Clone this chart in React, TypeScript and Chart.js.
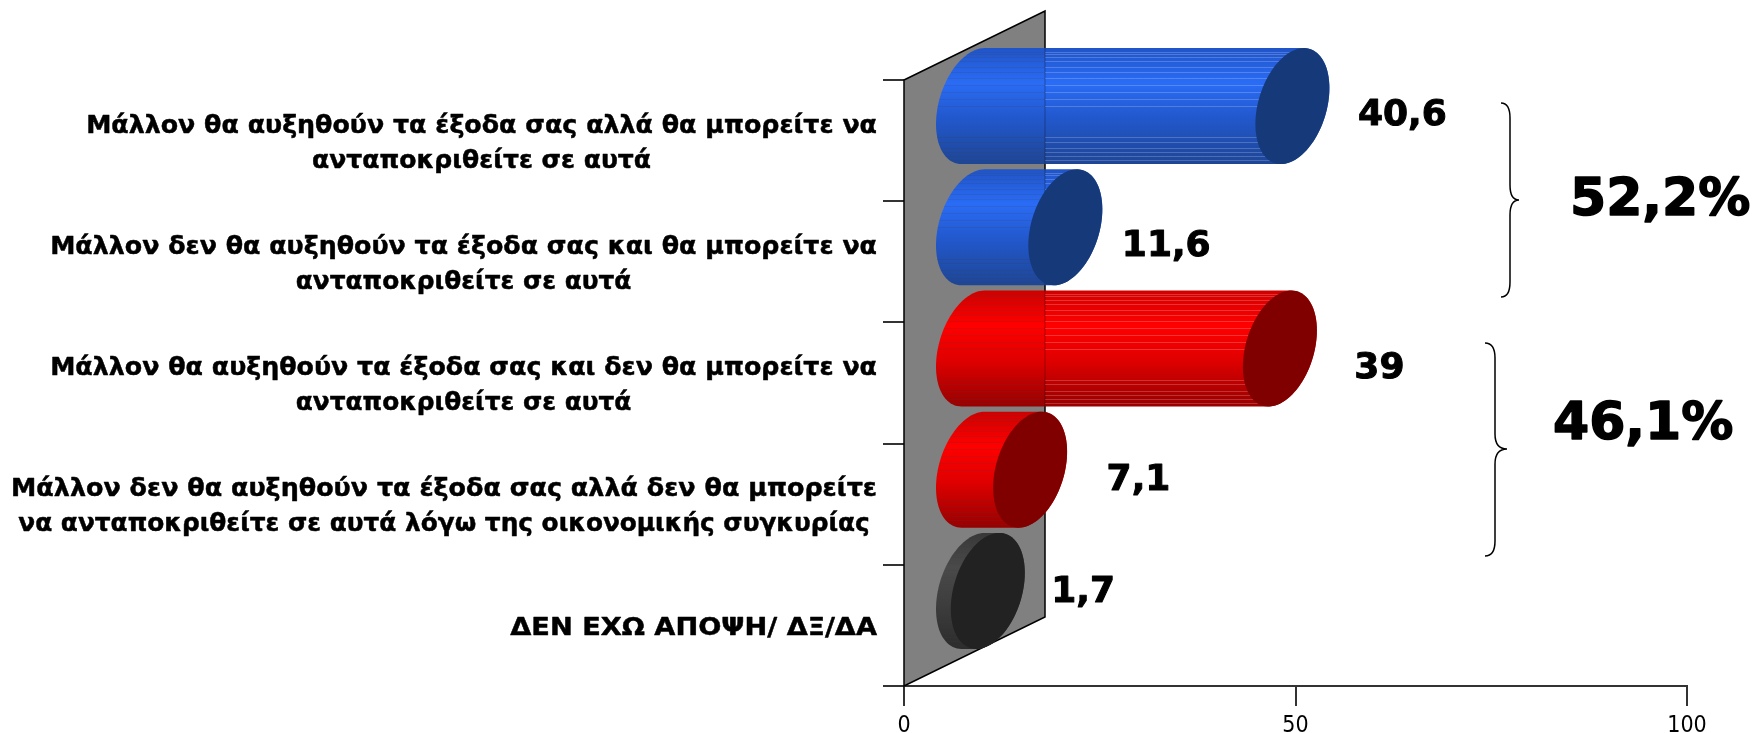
import React, { useEffect, useRef } from "react";
import { Chart, registerables } from "chart.js";

Chart.register(...registerables);

const categories: string[][] = [
  ["Μάλλον θα αυξηθούν τα έξοδα σας αλλά θα μπορείτε να", "ανταποκριθείτε σε αυτά"],
  ["Μάλλον δεν θα αυξηθούν τα έξοδα σας και θα μπορείτε να", "ανταποκριθείτε σε αυτά"],
  ["Μάλλον θα αυξηθούν τα έξοδα σας και δεν θα μπορείτε να", "ανταποκριθείτε σε αυτά"],
  ["Μάλλον δεν θα αυξηθούν τα έξοδα σας αλλά δεν θα μπορείτε", "να ανταποκριθείτε σε αυτά λόγω της οικονομικής συγκυρίας"],
  ["ΔΕΝ ΕΧΩ ΑΠΟΨΗ/ ΔΞ/ΔΑ"],
];
const values = [40.6, 11.6, 39, 7.1, 1.7];
const valueLabels = ["40,6", "11,6", "39", "7,1", "1,7"];
const xTicks = [0, 50, 100];

const palettes = [
  { stops: ["#2054c8", "#2a6cf6", "#2258cd", "#1e4696"], cap: "#16397a" },
  { stops: ["#2054c8", "#2a6cf6", "#2258cd", "#1e4696"], cap: "#16397a" },
  { stops: ["#d00000", "#ff0000", "#e00000", "#980000"], cap: "#800000" },
  { stops: ["#d00000", "#ff0000", "#e00000", "#980000"], cap: "#800000" },
  { stops: ["#383838", "#4a4a4a", "#3e3e3e", "#2c2c2c"], cap: "#222222" },
];
const stripeFractions = [0.03, 0.05, 0.08, 0.115, 0.166, 0.21, 0.26, 0.32, 0.38, 0.44, 0.5, 0.77, 0.81, 0.865, 0.9, 0.933, 0.968];

const DEPTH_X = 141;
const DEPTH_Y = 69;
const CAP_UX = 37;
const CAP_UY = 18;
const BOLD = '"DejaVu Sans", Verdana, sans-serif';

// Horizontal placement of each value label, measured from the bar end, and baseline from the category centre
const labelDx = [136, 127, 145, 147, 134];
const labelDy = [-15.5, -6, -5, -14, -23];
// Per-line horizontal stretch of the category labels, to match the reference typeface's widths
const labelStretch = [[1, 0.99], [1, 0.98], [1, 0.98], [1.004, 0.98], [1.076]];

function heavyText(ctx: any, text: string, x: number, y: number, weight: number) {
  ctx.lineWidth = weight;
  ctx.lineJoin = "round";
  ctx.strokeStyle = "#000";
  ctx.strokeText(text, x, y);
  ctx.fillText(text, x, y);
}

const cylinderPlugin = {
  id: "cylinder",
  beforeDatasetsDraw(chart: any) {
    const { ctx, chartArea: a } = chart;
    ctx.save();
    ctx.beginPath();
    ctx.moveTo(a.left, a.top);
    ctx.lineTo(a.left + DEPTH_X, a.top - DEPTH_Y);
    ctx.lineTo(a.left + DEPTH_X, a.bottom - DEPTH_Y);
    ctx.lineTo(a.left, a.bottom);
    ctx.closePath();
    ctx.fillStyle = "#808080";
    ctx.fill();
    ctx.strokeStyle = "#000";
    ctx.lineWidth = 1.5;
    ctx.stroke();
    ctx.restore();
  },
  afterDatasetsDraw(chart: any) {
    const { ctx, chartArea: a, scales } = chart;
    const meta = chart.getDatasetMeta(0);
    const wallRight = a.left + DEPTH_X;
    meta.data.forEach((bar: any, i: number) => {
      const h2 = bar.height / 2;
      const x0 = scales.x.getPixelForValue(0) + DEPTH_X / 2 - 1.5;
      const x1 = bar.x + DEPTH_X / 2;
      const cy = bar.y - DEPTH_Y / 2;
      const vy = Math.sqrt(Math.max(h2 * h2 - CAP_UY * CAP_UY, 1));
      const pt = (cx: number, t: number) => [cx + CAP_UX * Math.cos(t), cy - CAP_UY * Math.cos(t) + vy * Math.sin(t)];
      const t1 = Math.atan2(-vy, CAP_UY);
      const n = 48;
      const top = cy - h2;
      const bottom = cy + h2;
      const pal = palettes[i];

      ctx.save();
      ctx.beginPath();
      for (let k = 0; k <= n; k++) {
        const p = pt(x0, t1 - (Math.PI * k) / n);
        if (k === 0) ctx.moveTo(p[0], p[1]);
        else ctx.lineTo(p[0], p[1]);
      }
      for (let k = 0; k <= n; k++) {
        const p = pt(x1, t1 - Math.PI - (Math.PI * k) / n);
        ctx.lineTo(p[0], p[1]);
      }
      ctx.closePath();
      const g = ctx.createLinearGradient(0, top, 0, bottom);
      g.addColorStop(0, pal.stops[0]);
      g.addColorStop(0.3, pal.stops[1]);
      g.addColorStop(0.6, pal.stops[2]);
      g.addColorStop(1, pal.stops[3]);
      ctx.fillStyle = g;
      ctx.fill();
      ctx.clip();

      // fine gaps between the bands of the cylinder, showing what lies behind
      ctx.lineWidth = 1;
      stripeFractions.forEach((f) => {
        const y = Math.round(top + f * bar.height) + 0.5;
        ctx.strokeStyle = "rgba(64,64,64,0.16)";
        ctx.beginPath();
        ctx.moveTo(x0 - CAP_UX, y);
        ctx.lineTo(Math.min(wallRight, x1 + CAP_UX), y);
        ctx.stroke();
        if (x1 + CAP_UX > wallRight) {
          ctx.strokeStyle = "rgba(255,255,255,0.2)";
          ctx.beginPath();
          ctx.moveTo(wallRight, y);
          ctx.lineTo(x1 + CAP_UX, y);
          ctx.stroke();
        }
      });
      if (x1 + CAP_UX > wallRight) {
        ctx.strokeStyle = "rgba(0,0,0,0.2)";
        ctx.lineWidth = 1.5;
        ctx.beginPath();
        ctx.moveTo(wallRight, top);
        ctx.lineTo(wallRight, bottom);
        ctx.stroke();
      }
      ctx.restore();

      // end cap
      ctx.save();
      ctx.beginPath();
      for (let k = 0; k <= n * 2; k++) {
        const p = pt(x1, (Math.PI * k) / n);
        if (k === 0) ctx.moveTo(p[0], p[1]);
        else ctx.lineTo(p[0], p[1]);
      }
      ctx.closePath();
      ctx.fillStyle = pal.cap;
      ctx.fill();
      ctx.restore();

      // value label
      ctx.save();
      ctx.font = `bold 36px ${BOLD}`;
      ctx.fillStyle = "#000";
      ctx.textAlign = "left";
      ctx.textBaseline = "alphabetic";
      heavyText(ctx, valueLabels[i], bar.x + labelDx[i], bar.y + labelDy[i], 1);
      ctx.restore();
    });
  },
  afterDraw(chart: any) {
    const { ctx, scales } = chart;
    // category labels: a centred block whose widest line ends at the label edge
    ctx.save();
    ctx.font = `bold 25.3px ${BOLD}`;
    ctx.fillStyle = "#000";
    ctx.textBaseline = "middle";
    ctx.textAlign = "center";
    const labelEdge = 877;
    (chart.data.labels as string[][]).forEach((lines, i) => {
      const w = Math.max(...lines.map((l, j) => ctx.measureText(l).width * labelStretch[i][j]));
      const yc = scales.y.getPixelForValue(i) + 3;
      const xc = labelEdge - w / 2;
      lines.forEach((l, j) => {
        ctx.save();
        ctx.translate(xc, yc + (j - (lines.length - 1) / 2) * 35);
        ctx.scale(labelStretch[i][j], 1);
        heavyText(ctx, l, 0, 0, 0.5);
        ctx.restore();
      });
    });
    ctx.restore();

    // braces and group totals
    const brace = (hook: number, spine: number, tip: number, top: number, mid: number, bottom: number) => {
      const r = 15;
      ctx.beginPath();
      ctx.moveTo(hook, top);
      ctx.quadraticCurveTo(spine, top, spine, top + r);
      ctx.lineTo(spine, mid - r);
      ctx.quadraticCurveTo(spine, mid, tip, mid);
      ctx.quadraticCurveTo(spine, mid, spine, mid + r);
      ctx.lineTo(spine, bottom - r);
      ctx.quadraticCurveTo(spine, bottom, hook, bottom);
      ctx.stroke();
    };
    ctx.save();
    ctx.strokeStyle = "#000";
    ctx.lineWidth = 1.5;
    brace(1501, 1510, 1519, 103, 200, 297);
    brace(1485, 1495, 1507, 343, 449, 556);
    ctx.font = `bold 52px ${BOLD}`;
    ctx.fillStyle = "#000";
    ctx.textAlign = "left";
    ctx.textBaseline = "alphabetic";
    heavyText(ctx, "52,2%", 1570, 215, 1.5);
    heavyText(ctx, "46,1%", 1553, 439, 1.5);
    ctx.restore();
  },
};

export default function App() {
  const ref = useRef<HTMLCanvasElement>(null);
  useEffect(() => {
    const chart = new Chart(ref.current!, {
      type: "bar",
      data: {
        labels: categories as any,
        datasets: [
          {
            data: values,
            backgroundColor: "rgba(0,0,0,0)",
            borderWidth: 0,
            barPercentage: 0.957,
            categoryPercentage: 1,
          },
        ],
      },
      plugins: [cylinderPlugin],
      options: {
        indexAxis: "y",
        animation: false,
        responsive: false,
        events: [],
        layout: { padding: { top: 80, right: 68, left: 0, bottom: 0 } },
        plugins: { legend: { display: false }, title: { display: false }, tooltip: { enabled: false } },
        scales: {
          x: {
            min: 0,
            max: 100,
            afterBuildTicks(scale: any) {
              scale.ticks = xTicks.map((value) => ({ value }));
            },
            afterFit(scale: any) {
              scale.height = 47;
            },
            border: { display: true, color: "#333", width: 2 },
            grid: { display: true, drawOnChartArea: false, drawTicks: true, tickLength: 20, color: "#333", lineWidth: 2 },
            ticks: {
              autoSkip: false,
              maxRotation: 0,
              padding: 6,
              color: "#000",
              font: { family: '"DejaVu Sans Condensed", "DejaVu Sans", sans-serif', size: 23 },
            },
          },
          y: {
            afterFit(scale: any) {
              scale.width = 904;
            },
            border: { display: false },
            grid: { display: true, offset: true, drawOnChartArea: false, drawTicks: true, tickLength: 21, color: "#333", lineWidth: 2 },
            ticks: { display: false },
          },
        },
      } as any,
    });
    return () => chart.destroy();
  }, []);
  return (
    <div style={{ position: "fixed", left: 0, top: 0, width: 1755, height: 733, background: "#fff" }}>
      <canvas ref={ref} width={1755} height={733} style={{ display: "block" }} />
    </div>
  );
}
